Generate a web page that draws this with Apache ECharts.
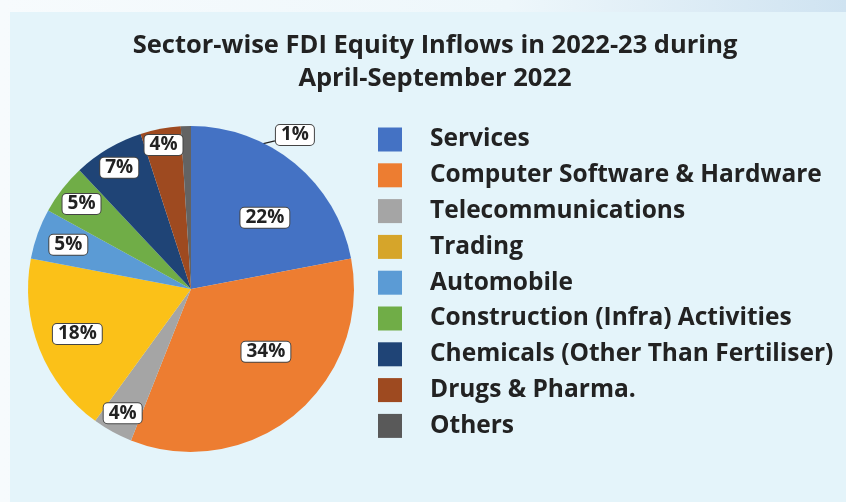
<!DOCTYPE html>
<html>
<head>
<meta charset="utf-8">
<script src="https://cdn.jsdelivr.net/npm/echarts@6/dist/echarts.min.js"></script>
<style>
  html, body { margin: 0; padding: 0; }
  body { background: linear-gradient(90deg, #f7fbfd 0%, #eef7fb 60%, #cfe3f1 100%); }
  #chart { width: 846px; height: 502px; }
</style>
</head>
<body>
<div id="chart"></div>
<script>
// data
var sectors = ['Services', 'Computer Software & Hardware', 'Telecommunications', 'Trading',
  'Automobile', 'Construction (Infra) Activities', 'Chemicals (Other Than Fertiliser)',
  'Drugs & Pharma.', 'Others']
var shares = [22, 34, 4, 18, 5, 5, 7, 4, 1]
var sliceColors = ['#4472c4', '#ed7d31', '#a5a5a5', '#fbc118', '#5b9bd5', '#70ad47', '#1f4476', '#9e4a20', '#636363']
var legendColors = ['#4472c4', '#ed7d31', '#a5a5a5', '#d6a52a', '#5b9bd5', '#70ad47', '#1f4476', '#9e4a20', '#595959']

// where each percentage box sits (fraction of radius, optional fixed angle)
var labelRadius = [0.63, 0.6, 0.87, 0.75, 0.8, 0.85, 0.865, 0.9, 1.14]
var labelAngle = [44, -40, null, null, null, null, null, null, 56]

var cx = 191, cy = 289, R = 163
var total = shares.reduce(function (a, b) { return a + b }, 0)

function midAngle(i) {
  var before = shares.slice(0, i).reduce(function (a, b) { return a + b }, 0)
  return 90 - 360 * (before + shares[i] / 2) / total
}

var font = 'Open Sans'
var chart = echarts.init(document.getElementById('chart'))
var option = {
  graphic: [{
    type: 'rect', z: -1,
    shape: { x: 10, y: 12, width: 836, height: 490 },
    style: { fill: '#e4f4fa' }
  }],
  title: {
    text: 'Sector-wise FDI Equity Inflows in 2022-23 during\nApril-September 2022',
    left: 430, top: 24, textAlign: 'center',
    textStyle: { fontFamily: font, fontWeight: 'bold', fontSize: 25.5, lineHeight: 33, color: '#222' }
  },
  legend: {
    orient: 'vertical', left: 378, top: 127, padding: 0,
    itemWidth: 24, itemHeight: 24, itemGap: 10.8,
    icon: 'rect', selectedMode: false,
    data: sectors.map(function (s, i) { return { name: s, itemStyle: { color: legendColors[i] } } }),
    textStyle: { fontFamily: font, fontWeight: 'bold', fontSize: 24.5, lineHeight: 24, color: '#222', padding: [0, 0, 0, 23] }
  },
  series: [{
    type: 'pie',
    center: [cx, cy], radius: R,
    startAngle: 90, clockwise: true,
    avoidLabelOverlap: false,
    silent: true,
    data: sectors.map(function (s, i) {
      var d = { name: s, value: shares[i], itemStyle: { color: sliceColors[i] } }
      if (i === sectors.length - 1) d.labelLine = { show: true, lineStyle: { color: '#222', width: 1.2 } }
      return d
    }),
    label: {
      show: true, position: 'outside',
      formatter: '{c}%',
      fontFamily: font, fontWeight: 'bold', fontSize: 19, color: '#222',
      backgroundColor: '#fff', borderColor: '#444', borderWidth: 1, borderRadius: 4,
      padding: [1, 5, 0, 5]
    },
    labelLine: { show: false },
    labelLayout: function (p) {
      var i = p.dataIndex
      var ang = labelAngle[i] != null ? labelAngle[i] : midAngle(i)
      var rad = ang * Math.PI / 180
      var x = cx + Math.cos(rad) * R * labelRadius[i]
      var y = cy - Math.sin(rad) * R * labelRadius[i]
      var out = { x: x, y: y, align: 'center', verticalAlign: 'middle' }
      if (i === sectors.length - 1) {
        var m = midAngle(i) * Math.PI / 180
        var start = [cx + Math.cos(m) * R * 0.78, cy - Math.sin(m) * R * 0.78]
        out.labelLinePoints = [start, start, [x - p.labelRect.width / 2, y + 6]]
      }
      return out
    }
  }]
}
chart.setOption(option)
</script>
</body>
</html>
